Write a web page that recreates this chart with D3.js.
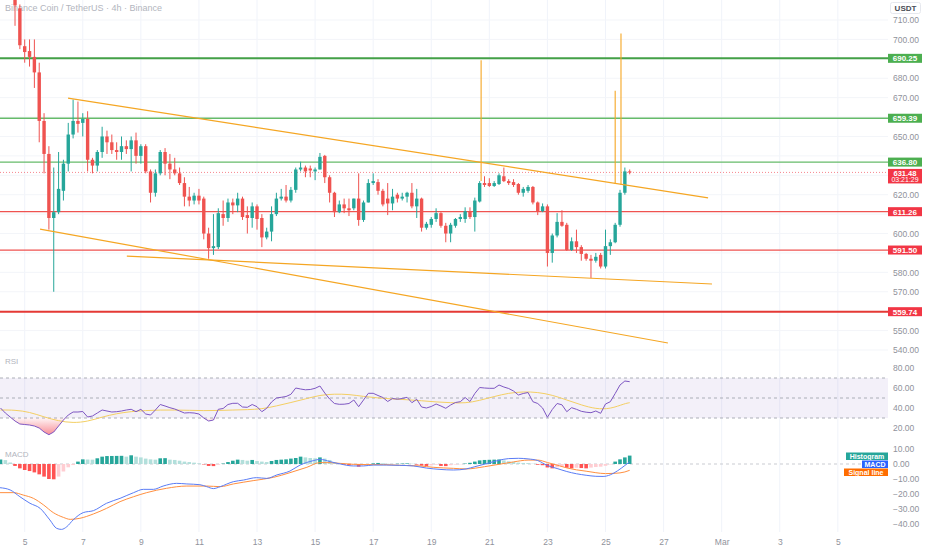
<!DOCTYPE html>
<html>
<head>
<meta charset="utf-8">
<script src="https://cdn.jsdelivr.net/npm/d3@7"></script>
<style>
  html, body { margin: 0; padding: 0; background: #fff; }
  svg { display: block; font-family: "Liberation Sans", Arial, sans-serif; }
</style>
</head>
<body>
<div id="chart"></div>
<script>
// Données ******************************************************************
// bougies 4h, la bougie 0 ouvre le 4 fév. 2025 à 16:00 (UTC)
const firstBar = Date.UTC(2025, 1, 4, 16)

const opens = [723, 716, 696.5, 694, 691, 683, 658, 641, 608, 611,
  622, 636, 651, 658, 657, 659, 638, 635, 642, 650,
  647, 643, 642, 645, 643.5, 648, 640, 645, 632, 621,
  631, 642, 636, 633, 631, 626, 619, 617, 619.5, 618,
  600, 592.5, 593, 610, 608, 616, 614.5, 618, 609.5, 608,
  614, 608, 598, 601, 610, 618, 619, 617, 622.5, 633,
  634, 633.5, 632, 633, 640, 629, 621, 611, 615, 613,
  613, 618, 607, 616, 626, 626.5, 622, 618, 615.5, 620,
  618, 619, 621, 614, 618, 603, 604.5, 607.5, 610.5, 604,
  600, 604, 607.5, 607.5, 611.5, 608.5, 616.5, 626, 626, 624.5,
  625.5, 629.5, 627, 626.5, 625.5, 621, 622, 624, 616, 611.5,
  614, 590, 599, 606, 604.5, 591.5, 596, 593, 589.5, 587,
  586, 589, 583, 593.5, 595.5, 604.5, 621, 632]

const highs = [728, 718, 700, 700, 700, 688, 662, 645, 634, 642,
  638, 657, 669, 668, 662, 663, 639, 643, 655, 653,
  651, 647, 650, 648, 650, 652, 646, 646, 633, 633,
  643, 644, 641, 639, 634, 629, 624, 621, 623, 619,
  603, 610, 613, 617, 618, 618, 621, 619, 614, 616,
  615, 610, 603, 614, 621, 623, 625, 624, 634, 637,
  635, 635, 634, 641.5, 640.5, 630, 621.5, 617, 618, 618,
  618, 631, 617, 628, 631, 628, 623, 626, 623, 621,
  621, 621.5, 626, 623, 618.5, 606, 608.5, 613, 611, 605.5,
  605.5, 608, 610, 613.5, 613.5, 618.5, 627, 629.5, 628.5, 627,
  631, 634, 628, 628, 626, 624, 625, 624.5, 616.5, 615.5,
  615, 600, 610.5, 612, 605.5, 598, 602, 594, 590, 589,
  590, 590, 602, 597, 605.5, 622.5, 634, 633]

const lows = [707, 695, 688, 686, 675, 647, 631, 602, 570, 610,
  617, 632, 649, 652, 650, 632, 631, 632, 639, 641,
  641, 638, 638, 641, 632, 636, 636, 631, 616, 619,
  630, 630, 628, 630, 625, 614, 614, 615, 615, 597,
  587, 589, 592, 604, 606, 610, 611, 607, 600, 603,
  602, 593, 597, 596, 609, 617, 616, 616, 621, 632,
  629, 629, 627.5, 633, 626, 616, 608.5, 610.5, 610.5, 609,
  612, 604, 606, 616, 625, 620, 614, 609.5, 612, 616,
  617, 616, 613, 608, 601, 602, 603, 606, 603, 595.5,
  595.5, 603, 606, 605.5, 607.5, 601, 616, 624, 624, 624,
  625, 626.5, 625, 624, 620, 619, 621, 615, 609.5, 611,
  583, 585, 598, 603.5, 591, 591, 590, 586, 586, 577,
  585, 582, 582, 589, 595, 603.5, 620, 630.5]

const closes = [717.5, 697, 693.5, 691, 683, 658, 641, 608, 611, 623,
  636, 651, 658, 656.5, 659, 638, 635, 642, 650, 647,
  643, 642, 645, 643.5, 648, 640, 645, 632, 621, 631,
  642, 636, 633, 631, 626, 619, 617, 619.5, 617, 600,
  592.5, 593.5, 610.5, 608, 616, 614.5, 618, 608.5, 608, 614,
  607.5, 598, 601, 610, 618, 619, 617, 622.5, 633, 634,
  632, 632.5, 633, 639.5, 629, 621, 611, 615, 613, 612,
  618, 607, 616, 626, 627, 622, 615, 615.5, 619, 618,
  619, 621, 614, 618, 603, 605, 607.5, 610.5, 604, 600,
  604.5, 607.5, 608.5, 611.5, 608.5, 617, 626, 625, 624.5, 626,
  630, 627, 626, 625, 621, 623, 624, 616, 611.5, 614,
  590, 599, 606, 604, 591.5, 596, 593, 589.5, 587, 586,
  588, 583, 593.5, 595.5, 604.5, 621, 632, 631.48]

// indicateurs : commencent 3 bougies avant la bougie 0
const indStart = -3

const rsi = [40, 35, 31,
  27, 24, 23.5, 23, 22, 20, 16, 13.3, 16, 22,
  28, 33, 36, 36, 36.5, 31, 32, 35, 38, 37,
  36, 36.3, 37, 38, 38.7, 36.3, 38.7, 34, 33, 38,
  43.5, 42, 40.3, 39, 37, 35, 35.3, 35, 34, 30,
  27, 28, 38.7, 39.5, 43.5, 44.7, 44.7, 41, 40.7, 43.5,
  41.3, 36.3, 39.7, 46, 50, 50.7, 51.5, 53.7, 60, 59,
  58.2, 58.5, 59.7, 62, 55, 49, 44.5, 43.7, 43.8, 44.5,
  48, 41.3, 48, 54.7, 54.7, 52.5, 50.5, 46.5, 49.5, 48.8,
  49.5, 50.7, 45.3, 48.7, 41, 40, 41.5, 44, 42, 39.7,
  43, 45.5, 46.3, 50.5, 46.5, 54.5, 60.5, 60, 59.7, 59.7,
  63, 61, 59.5, 57, 53, 54.5, 55.5, 46.3, 44.5, 40,
  30.7, 38.5, 44.5, 43.2, 36.3, 40.3, 38.7, 36.7, 35.8, 35.3,
  37, 34.7, 44, 46.3, 54.5, 63, 67, 66.3]

// moyenne du RSI : [bougie, valeur]
const rsiMa = [[-3, 38], [0, 38], [3, 36], [6, 31], [9, 27], [12, 25], [15, 26.5], [18, 31],
  [21, 34.5], [24, 36.5], [27, 37.5], [30, 38], [33, 38], [36, 37.7], [39, 37.3], [42, 37.5],
  [45, 38], [48, 38.3], [51, 39], [54, 42], [57, 45.5], [60, 49], [63, 53], [66, 54],
  [69, 53.7], [72, 51.5], [75, 50], [78, 49], [81, 48.3], [84, 47.3], [87, 46], [90, 45.3],
  [93, 44.7], [96, 47.5], [99, 51.5], [102, 55], [105, 56.3], [108, 55.8], [111, 53], [114, 48],
  [117, 43], [120, 39], [123, 39], [126, 44.5], [127, 45.3]]

const histogram = [3.0, 2.6, 1.0,
  -1.3, -2.9, -4, -4.7, -5.6, -6.9, -8.4, -10, -10.2, -8.4,
  -5, -2.2, -0.7, 1.6, 3.1, 3.0, 2.9, 3.8, 4.9, 5.3,
  5.35, 5.4, 5.45, 4.9, 5.8, 4.9, 4.4, 3.6, 3.1, 2.9,
  3.8, 3.9, 2.9, 2.7, 2.2, 1.6, 1.3, 0.9, 0.4, -0.3,
  -1.3, -1.4, -0.5, 0.3, 1.3, 2.2, 2.9, 2.7, 2.2, 2.7,
  2.0, 1.6, 1.3, 2.0, 2.7, 2.9, 3.1, 3.6, 4.0, 4.9,
  4.4, 4.0, 3.8, 4.4, 3.6, 2.7, 1.1, 0.4, -0.4, -0.9,
  -0.6, -1.8, -0.9, -0.4, 0.4, 0.7, 0.5, 0.2, 0.1, 0.2,
  0.3, 0.4, 0.2, -0.4, -1.1, -1.3, -0.9, -0.5, -1.3, -1.4,
  -0.8, -0.4, -0.2, 0.3, 0.8, 1.6, 2.4, 2.7, 2.8, 2.9,
  3.0, 2.4, 1.8, 1.4, 0.9, 0.7, 0.6, 0.2, -0.5, -0.8,
  -2.3, -2.9, -2.2, -1.8, -2.5, -2.9, -2.5, -2.7, -2.9, -2.4,
  -2.0, -1.8, -1.2, -0.3, 1.6, 3.1, 4.4, 5.6]

const macdLine = [[-3.1, -15.8], [-1, -17.3], [1, -21.8], [3.1, -26.2], [5.2, -29.6], [7.2, -37.3],
  [8.6, -42.9], [9.6, -43.6], [10.7, -41.8], [12, -37.3], [14.1, -32.4], [16.2, -31.1],
  [18.9, -26.2], [21.7, -22.9], [24.5, -19.1], [26.5, -16.9], [28.6, -16.9], [30.6, -14.7],
  [33.4, -12.9], [35.5, -13.3], [38.2, -13.8], [39.6, -15.1], [41, -16.4], [42.4, -15.1],
  [45.1, -11.8], [47.2, -10.7], [49.9, -9.1], [52, -9.6], [54.1, -7.3], [56.8, -4.7],
  [58.9, -0.7], [61.6, 2.2], [63, 3.1], [65.1, 1.6], [67.2, 0], [69.9, -1.3], [72, -1.3],
  [74, -0.7], [76.8, -0.7], [79.5, -0.9], [82.3, -1.3], [85, -2.7], [87.8, -3.6], [90.6, -4],
  [93.2, -3.3], [95, -1.8], [97.5, 0.3], [100, 2.5], [102, 3.6], [104, 3.8], [106, 3.4],
  [108, 2.3], [110, -1], [112, -3], [114, -5], [116, -6.5], [118, -7.5], [120, -8.2],
  [121.5, -8.3], [123, -7.2], [124.5, -4.5], [126, -1], [127, 1.5]]

const signalLine = [[-3.1, -19.1], [-0.3, -19.1], [1.7, -20.7], [3.8, -22.9], [5.9, -27.3],
  [7.9, -32.4], [10, -35.6], [11.4, -36.9], [13.4, -36.2], [16.2, -33.3], [18.9, -29.6],
  [21.7, -25.1], [24.5, -21.8], [27.2, -19.1], [31.3, -16.2], [35.5, -14.7], [39.6, -14.7],
  [42.4, -15.1], [45.1, -13.3], [49.2, -11.1], [53.4, -8.9], [56.8, -5.8], [60.3, -2.2],
  [63, 0.9], [65.1, 0.9], [67.2, 0.4], [69.9, -0.2], [72.7, -0.4], [76.1, -0.4], [79.5, -0.9],
  [83.7, -1.3], [86.4, -2.2], [90.6, -2.9], [93.2, -3.3], [97, -1.8], [100, -0.2], [103, 1.4],
  [106, 2.6], [108, 2.6], [110, 1.0], [112, -0.8], [114, -2.6], [116, -3.9], [118, -4.8],
  [120, -5.8], [122, -6.4], [124, -6.2], [126, -5.3], [127, -4.2]]

// niveaux horizontaux dessinés
const levels = [690.25, 659.39, 636.80, 611.26, 591.50, 559.74]
const lastPrice = 631.48
const countdown = "03:21:29"

// lignes de tendance : [bougie, prix] début et fin
const trendLines = [
  [[10.95, 669.8], [143.2, 618.4]],
  [[5.17, 602.3], [134.9, 543.6]],
  [[23.1, 588.4], [144, 574]]
]
// traits verticaux : [bougie, prix haut, prix bas]
const spikes = [[96.3, 689.3, 627], [124, 673.6, 625.5], [125.2, 703.1, 625]]

// graduations
const priceTicks = d3.range(540, 711, 10)
const rsiTicks = [20, 40, 60, 80]
const macdTicks = [10, 0, -10, -20, -30, -40]
const dateTicks = d3.utcDay.every(2).range(new Date(Date.UTC(2025, 1, 5)), new Date(Date.UTC(2025, 2, 6)))


// Mise en page *************************************************************
const W = 932, H = 550
const plotRight = 888
const up = "#26a69a", down = "#ef5350"
const levelStyle = [
  { color: "#43a047", w: 2, box: "#4caf50" },
  { color: "#66bb6a", w: 1.5, box: "#4caf50" },
  { color: "#66bb6a", w: 1.2, box: "#4caf50" },
  { color: "#ef5350", w: 1.2, box: "#f23645" },
  { color: "#ef5350", w: 1.2, box: "#f23645" },
  { color: "#e53935", w: 2, box: "#f23645" }
]

const barTime = i => new Date(firstBar + i * 4 * 3600 * 1000)

const x = d3.scaleUtc()
  .domain([new Date(Date.UTC(2025, 1, 5)), new Date(Date.UTC(2025, 1, 25))])
  .range([24.7, 605.5])
const y = d3.scaleLinear().domain([540, 710]).range([350, 20])
const yRsi = d3.scaleLinear().domain([20, 80]).range([428, 368])
const yMacd = d3.scaleLinear().domain([-40, 10]).range([524, 449])

// étiquette du dernier prix : de y-3.5 à y+11
const lastTop = y(lastPrice) - 3.5, lastH = 14.5

// graduations cachées par les étiquettes (niveaux et dernier prix)
const hidden = d => levels.some(l => Math.abs(y(d) - y(l)) < 7.5) ||
  (y(d) > lastTop - 4 && y(d) < lastTop + lastH + 4)
const shownPriceTicks = priceTicks.filter(d => !hidden(d))

const svg = d3.select("#chart")
  .append("svg")
  .attr("width", W)
  .attr("height", H)

const defs = svg.append("defs")
defs.append("clipPath").attr("id", "clipMain")
  .append("rect").attr("x", 0).attr("y", 0).attr("width", plotRight).attr("height", 357)
defs.append("clipPath").attr("id", "clipRsi")
  .append("rect").attr("x", 0).attr("y", 357).attr("width", plotRight).attr("height", 83)
defs.append("clipPath").attr("id", "clipMacd")
  .append("rect").attr("x", 0).attr("y", 440).attr("width", plotRight).attr("height", 92)

const grad = defs.append("linearGradient")
  .attr("id", "oversold")
  .attr("gradientUnits", "userSpaceOnUse")
  .attr("x1", 0).attr("x2", 0)
  .attr("y1", yRsi(30)).attr("y2", yRsi(12))
grad.append("stop").attr("offset", 0).attr("stop-color", "#f23645").attr("stop-opacity", 0.05)
grad.append("stop").attr("offset", 1).attr("stop-color", "#f23645").attr("stop-opacity", 0.6)

// grille
svg.append("g")
  .selectAll("line")
  .data(dateTicks)
  .enter()
  .append("line")
  .attr("x1", d => x(d)).attr("x2", d => x(d))
  .attr("y1", 0).attr("y2", 532)
  .attr("stroke", "#f0f3fa")

svg.append("g")
  .selectAll("line")
  .data(priceTicks)
  .enter()
  .append("line")
  .attr("x1", 0).attr("x2", plotRight)
  .attr("y1", d => y(d)).attr("y2", d => y(d))
  .attr("stroke", "#f3f5f9")

// titre
svg.append("text")
  .attr("x", 5).attr("y", 10.5)
  .attr("font-size", 9)
  .attr("fill", "#b2b5be")
  .text("Binance Coin / TetherUS · 4h · Binance")


// Graphique principal ******************************************************
const main = svg.append("g").attr("clip-path", "url(#clipMain)")

// ligne du dernier prix (pointillés)
main.append("line")
  .attr("x1", 0).attr("x2", plotRight)
  .attr("y1", y(lastPrice)).attr("y2", y(lastPrice))
  .attr("stroke", "#f23645")
  .attr("stroke-opacity", 0.6)
  .attr("stroke-dasharray", "1,2")

// niveaux
main.selectAll("line.level")
  .data(levels)
  .enter()
  .append("line")
  .attr("class", "level")
  .attr("x1", 0).attr("x2", plotRight)
  .attr("y1", d => y(d)).attr("y2", d => y(d))
  .attr("stroke", (d, i) => levelStyle[i].color)
  .attr("stroke-width", (d, i) => levelStyle[i].w)

const candles = closes.map((c, i) => ({ t: barTime(i), o: opens[i], h: highs[i], l: lows[i], c: c }))

main.selectAll("line.wick")
  .data(candles)
  .enter()
  .append("line")
  .attr("class", "wick")
  .attr("x1", d => x(d.t)).attr("x2", d => x(d.t))
  .attr("y1", d => y(d.h)).attr("y2", d => y(d.l))
  .attr("stroke", d => d.c >= d.o ? up : down)
  .attr("stroke-width", 1)

main.selectAll("rect.body")
  .data(candles)
  .enter()
  .append("rect")
  .attr("class", "body")
  .attr("x", d => x(d.t) - 1.7)
  .attr("width", 3.4)
  .attr("y", d => y(Math.max(d.o, d.c)))
  .attr("height", d => Math.max(1, Math.abs(y(d.o) - y(d.c))))
  .attr("fill", d => d.c >= d.o ? up : down)

// lignes de tendance
main.selectAll("line.trend")
  .data(trendLines)
  .enter()
  .append("line")
  .attr("x1", d => x(barTime(d[0][0]))).attr("y1", d => y(d[0][1]))
  .attr("x2", d => x(barTime(d[1][0]))).attr("y2", d => y(d[1][1]))
  .attr("stroke", "#f5a623")
  .attr("stroke-width", 1.2)

main.selectAll("line.spike")
  .data(spikes)
  .enter()
  .append("line")
  .attr("x1", d => x(barTime(d[0]))).attr("x2", d => x(barTime(d[0])))
  .attr("y1", d => y(d[1])).attr("y2", d => y(d[2]))
  .attr("stroke", "#f5a623")
  .attr("stroke-width", 1.1)


// RSI **********************************************************************
const rsiG = svg.append("g").attr("clip-path", "url(#clipRsi)")
const rsiPts = rsi.map((v, k) => ({ t: barTime(indStart + k), v: v }))

rsiG.append("rect")
  .attr("x", 0).attr("width", plotRight)
  .attr("y", yRsi(70)).attr("height", yRsi(30) - yRsi(70))
  .attr("fill", "#7e57c2")
  .attr("fill-opacity", 0.09)

rsiG.selectAll("line.band")
  .data([70, 50, 30])
  .enter()
  .append("line")
  .attr("x1", 0).attr("x2", plotRight)
  .attr("y1", d => yRsi(d)).attr("y2", d => yRsi(d))
  .attr("stroke", "#a3a6af")
  .attr("stroke-width", 0.9)
  .attr("stroke-dasharray", "3,3")

rsiG.append("path")
  .datum(rsiPts)
  .attr("d", d3.area().x(d => x(d.t)).y0(yRsi(30)).y1(d => yRsi(Math.min(d.v, 30))))
  .attr("fill", "url(#oversold)")

rsiG.append("path")
  .datum(rsiMa)
  .attr("d", d3.line().x(d => x(barTime(d[0]))).y(d => yRsi(d[1])).curve(d3.curveBasis))
  .attr("fill", "none")
  .attr("stroke", "#f3cf63")
  .attr("stroke-width", 1)

rsiG.append("path")
  .datum(rsiPts)
  .attr("d", d3.line().x(d => x(d.t)).y(d => yRsi(d.v)))
  .attr("fill", "none")
  .attr("stroke", "#7e57c2")
  .attr("stroke-width", 1)

svg.append("text")
  .attr("x", 5).attr("y", 364)
  .attr("font-size", 8)
  .attr("fill", "#b2b5be")
  .text("RSI")


// MACD *********************************************************************
const macdG = svg.append("g").attr("clip-path", "url(#clipMacd)")

macdG.append("line")
  .attr("x1", 0).attr("x2", plotRight)
  .attr("y1", yMacd(0)).attr("y2", yMacd(0))
  .attr("stroke", "#c9cbd1")
  .attr("stroke-dasharray", "3,3")

// couleur de l'histogramme selon le signe et la pente
const histColor = (v, k) => {
  const prev = k > 0 ? histogram[k - 1] : 0
  if (v >= 0) return v >= prev ? "#26a69a" : "#b2dfdb"
  return v <= prev ? "#ff5252" : "#ffcdd2"
}

macdG.selectAll("rect.hist")
  .data(histogram)
  .enter()
  .append("rect")
  .attr("class", "hist")
  .attr("x", (v, k) => x(barTime(indStart + k)) - 1.8)
  .attr("width", 3.6)
  .attr("y", v => Math.min(yMacd(v), yMacd(0)))
  .attr("height", v => Math.abs(yMacd(v) - yMacd(0)))
  .attr("fill", histColor)

macdG.append("path")
  .datum(signalLine)
  .attr("d", d3.line().x(d => x(barTime(d[0]))).y(d => yMacd(d[1])).curve(d3.curveMonotoneX))
  .attr("fill", "none")
  .attr("stroke", "#ff8f3f")
  .attr("stroke-width", 1)

macdG.append("path")
  .datum(macdLine)
  .attr("d", d3.line().x(d => x(barTime(d[0]))).y(d => yMacd(d[1])).curve(d3.curveMonotoneX))
  .attr("fill", "none")
  .attr("stroke", "#5a7cf5")
  .attr("stroke-width", 1)

svg.append("text")
  .attr("x", 5).attr("y", 457)
  .attr("font-size", 8)
  .attr("fill", "#b2b5be")
  .text("MACD")

// étiquettes de la légende MACD
const macdTags = [
  { label: "Histogram", color: "#26a69a", w: 42, top: 452.5 },
  { label: "MACD", color: "#2962ff", w: 26, top: 460.5 },
  { label: "Signal line", color: "#ff6d00", w: 44, top: 468.5 }
]
const tag = svg.append("g")
  .selectAll("g")
  .data(macdTags)
  .enter()
  .append("g")
tag.append("rect")
  .attr("x", d => plotRight - d.w).attr("y", d => d.top)
  .attr("width", d => d.w).attr("height", 7.5)
  .attr("fill", d => d.color)
tag.append("text")
  .attr("x", d => plotRight - d.w / 2).attr("y", d => d.top + 6.3)
  .attr("text-anchor", "middle")
  .attr("font-size", 7)
  .attr("font-weight", "bold")
  .attr("fill", "#fff")
  .text(d => d.label)


// Axes *********************************************************************
const styleAxis = g => {
  g.select(".domain").remove()
  g.selectAll("text")
    .attr("font-size", 8.5)
    .attr("fill", "#8f929b")
    .attr("font-family", "Liberation Sans, Arial, sans-serif")
}

svg.append("g")
  .attr("transform", `translate(${plotRight},0)`)
  .call(d3.axisRight(y).tickValues(shownPriceTicks).tickSize(0).tickPadding(5).tickFormat(d3.format(".2f")))
  .call(styleAxis)

svg.append("g")
  .attr("transform", `translate(${plotRight},0)`)
  .call(d3.axisRight(yRsi).tickValues(rsiTicks).tickSize(0).tickPadding(5).tickFormat(d3.format(".2f")))
  .call(styleAxis)

svg.append("g")
  .attr("transform", `translate(${plotRight},0)`)
  .call(d3.axisRight(yMacd).tickValues(macdTicks).tickSize(0).tickPadding(5).tickFormat(d => d3.format(".2f")(d).replace("-", "\u2212")))
  .call(styleAxis)

svg.append("g")
  .attr("transform", "translate(0,537)")
  .call(d3.axisBottom(x).tickValues(dateTicks).tickSize(0).tickPadding(2)
    .tickFormat(d => d.getUTCDate() === 1 ? d3.utcFormat("%b")(d) : d.getUTCDate()))
  .call(styleAxis)

// USDT
svg.append("rect")
  .attr("x", 890.5).attr("y", 2.5)
  .attr("width", 30).attr("height", 11)
  .attr("rx", 2)
  .attr("fill", "#fff")
  .attr("stroke", "#e6e8ee")
svg.append("text")
  .attr("x", 905.5).attr("y", 11)
  .attr("text-anchor", "middle")
  .attr("font-size", 8)
  .attr("font-weight", "bold")
  .attr("fill", "#4a4d57")
  .text("USDT")

// étiquettes des niveaux
const lvl = svg.append("g")
  .selectAll("g")
  .data(levels)
  .enter()
  .append("g")
lvl.append("rect")
  .attr("x", plotRight).attr("y", d => y(d) - 4.5)
  .attr("width", 34).attr("height", 9)
  .attr("fill", (d, i) => levelStyle[i].box)
lvl.append("text")
  .attr("x", plotRight + 17).attr("y", d => y(d) + 3)
  .attr("text-anchor", "middle")
  .attr("font-size", 8)
  .attr("font-weight", "bold")
  .attr("fill", "#fff")
  .text(d => d3.format(".2f")(d))

// étiquette du dernier prix : prix et compte à rebours sur deux lignes
svg.append("rect")
  .attr("x", plotRight).attr("y", lastTop)
  .attr("width", 34).attr("height", lastH)
  .attr("fill", "#f23645")
svg.append("text")
  .attr("x", plotRight + 17).attr("y", y(lastPrice) + 3.5)
  .attr("text-anchor", "middle")
  .attr("font-size", 7.5)
  .attr("font-weight", "bold")
  .attr("fill", "#fff")
  .text(d3.format(".2f")(lastPrice))
svg.append("text")
  .attr("x", plotRight + 17).attr("y", y(lastPrice) + 10)
  .attr("text-anchor", "middle")
  .attr("font-size", 7)
  .attr("fill", "#fff")
  .text(countdown)
</script>
</body>
</html>
